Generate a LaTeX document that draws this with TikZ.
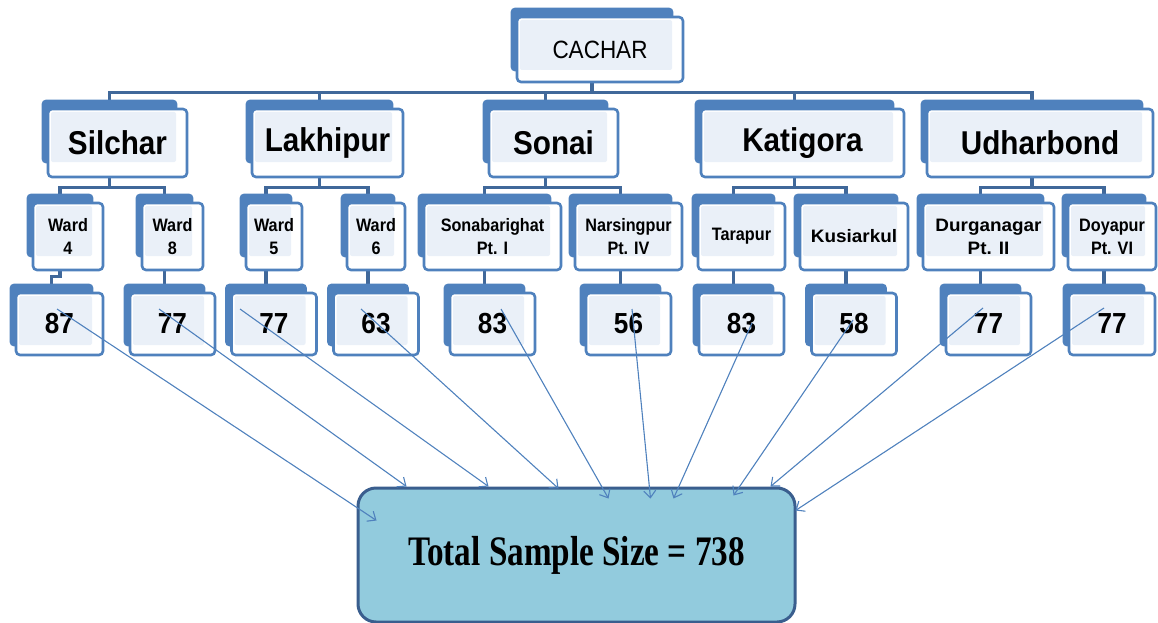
\documentclass[tikz,border=0pt]{standalone}
\usepackage{fontspec}
\setmainfont{Liberation Sans}
\newfontfamily\boxfont[FakeStretch=0.9]{Liberation Sans}
\newfontfamily\widefont[FakeStretch=1.05]{Liberation Sans}
\newfontfamily\totalfont[FakeStretch=0.79]{Liberation Serif}
\usetikzlibrary{positioning,backgrounds,arrows.meta}

\definecolor{boxblue}{RGB}{79,129,189}
\definecolor{lineblue}{RGB}{64,104,154}
\definecolor{paleblue}{RGB}{234,240,248}
\definecolor{sumfill}{RGB}{146,203,221}
\definecolor{sumdraw}{RGB}{58,94,142}

\begin{document}
\begin{tikzpicture}
[x=1pt, y=-1pt,
ebox/.style={draw=boxblue, line width=2.6pt, rounded corners=4pt, fill=white, inner sep=0pt, align=center,
	path picture={\fill[paleblue, rounded corners=2pt] ([shift={(3pt,-3pt)}]path picture bounding box.north west) rectangle ([shift={(-11pt,#1)}]path picture bounding box.south east);}},
rootbox/.style={ebox=12pt, minimum width=166pt, minimum height=65pt, font=\boxfont\fontsize{25}{28}\selectfont},
blockbox/.style={ebox=15pt, minimum width=#1, minimum height=68pt, font=\boxfont\bfseries\fontsize{33}{36}\selectfont},
unitbox/.style={ebox=14pt, minimum width=#1, minimum height=67pt, font=\boxfont\bfseries\fontsize{18}{23}\selectfont},
countbox/.style={ebox=10pt, minimum width=#1, minimum height=62pt, font=\boxfont\bfseries\fontsize{29}{32}\selectfont},
tree/.style={draw=lineblue, line width=3.5pt},
sumarrow/.style={draw=boxblue, line width=1.1pt, -{Straight Barb[length=7pt,width=12pt]}},
sumbox/.style={draw=sumdraw, line width=3pt, fill=sumfill, rounded corners=18pt, minimum width=437pt, minimum height=134pt, font=\totalfont\bfseries\fontsize{42}{46}\selectfont}
]

\useasboundingbox (0,0) rectangle (1158,623);

\node[rootbox] (cachar) at(600,49.5){CACHAR};

% blocks
\node[blockbox=139pt] (silchar) at(117.5,143){Silchar};
\node[blockbox=151pt] (lakhipur) at(327.5,143){Lakhipur};
\node[blockbox=129pt] (sonai) at(553.5,143){Sonai};
\node[blockbox=203pt] (katigora) at(802.5,143){Katigora};
\node[blockbox=226pt] (udharbond) at(1040,143){Udharbond};

% wards / GPs
\node[unitbox=70pt] (ward4) at(68,236.5){Ward\\4};
\node[unitbox=61pt] (ward8) at(172.5,236.5){Ward\\8};
\node[unitbox=56pt] (ward5) at(274,236.5){Ward\\5};
\node[unitbox=58pt] (ward6) at(376,236.5){Ward\\6};
\node[unitbox=137pt] (sonabarighat) at(492.5,236.5){Sonabarighat\\Pt. I};
\node[unitbox=107pt] (narsingpur) at(628.5,236.5){Narsingpur\\Pt. IV};
\node[unitbox=87pt] (tarapur) at(741.5,236.5){Tarapur};
\node[unitbox=108pt, font=\widefont\bfseries\fontsize{18}{23}\selectfont] (kusiarkul) at(854,236.5){Kusiarkul};
\node[unitbox=131pt, font=\widefont\bfseries\fontsize{18}{23}\selectfont] (durganagar) at(988.5,236.5){Durganagar\\Pt. II};
\node[unitbox=88pt] (doyapur) at(1112,236.5){Doyapur\\Pt. VI};

% sample counts
\node[countbox=87pt] (n4) at(59.5,324){87};
\node[countbox=85pt] (n8) at(172.5,324){77};
\node[countbox=85pt] (n5) at(274,324){77};
\node[countbox=85pt] (n6) at(376,324){63};
\node[countbox=85pt] (nsona) at(492.5,324){83};
\node[countbox=85pt] (nnars) at(628.5,324){56};
\node[countbox=85pt] (ntara) at(741.5,324){83};
\node[countbox=85pt] (nkusi) at(854,324){58};
\node[countbox=85pt] (ndurga) at(988.5,324){77};
\node[countbox=86pt] (ndoya) at(1112,324){77};

\node[sumbox] (total) at(576.5,555){Total Sample Size = 738};

\begin{scope}[on background layer]
\foreach \c in {silchar,lakhipur,sonai,katigora,udharbond}
	\draw[tree] ([xshift=-8pt]cachar.south) -- ++(0,-9pt) -| ([xshift=-8pt]\c.north);
\foreach \p/\c in {silchar/ward4,silchar/ward8,lakhipur/ward5,lakhipur/ward6,sonai/sonabarighat,sonai/narsingpur,katigora/tarapur,katigora/kusiarkul,udharbond/durganagar,udharbond/doyapur}
	\draw[tree] ([xshift=-8pt]\p.south) -- ++(0,-9pt) -| ([xshift=-8pt]\c.north);
\foreach \p/\c in {ward4/n4,ward8/n8,ward5/n5,ward6/n6,sonabarighat/nsona,narsingpur/nnars,tarapur/ntara,kusiarkul/nkusi,durganagar/ndurga,doyapur/ndoya}
	\draw[tree] ([xshift=-8pt]\p.south) -- ++(0,-5pt) -| ([xshift=-8pt]\c.north);
% blue backs
\foreach \n/\b in {cachar/12pt,silchar/15pt,lakhipur/15pt,sonai/15pt,katigora/15pt,udharbond/15pt,
	ward4/14pt,ward8/14pt,ward5/14pt,ward6/14pt,sonabarighat/14pt,narsingpur/14pt,tarapur/14pt,kusiarkul/14pt,durganagar/14pt,doyapur/14pt,
	n4/10pt,n8/10pt,n5/10pt,n6/10pt,nsona/10pt,nnars/10pt,ntara/10pt,nkusi/10pt,ndurga/10pt,ndoya/10pt}
	\fill[boxblue, rounded corners=4pt] ([shift={(-5pt,8pt)}]\n.north west) rectangle ([shift={(-11pt,\b)}]\n.south east);
\end{scope}

\draw[sumarrow] ([shift={(-2.5pt,15pt)}]n4.center) -- ([shift={(20pt,-34pt)}]total.north west);
\draw[sumarrow] ([shift={(-13.5pt,15pt)}]n8.center) -- ([shift={(50pt,0pt)}]total.north west);
\draw[sumarrow] ([shift={(-34pt,15pt)}]n5.center) -- ([shift={(132pt,0pt)}]total.north west);
\draw[sumarrow] ([shift={(-15pt,15pt)}]n6.center) -- ([shift={(202pt,-2pt)}]total.north west);
\draw[sumarrow] ([shift={(8.5pt,15pt)}]nsona.center) -- ([shift={(252pt,-12pt)}]total.north west);
\draw[sumarrow] ([shift={(3.5pt,15pt)}]nnars.center) -- ([shift={(294pt,-12pt)}]total.north west);
\draw[sumarrow] ([shift={(10.5pt,1pt)}]ntara.center) -- ([shift={(317pt,-12pt)}]total.north west);
\draw[sumarrow] ([shift={(-1pt,4pt)}]nkusi.center) -- ([shift={(377pt,-9pt)}]total.north west);
\draw[sumarrow] ([shift={(-5.5pt,16pt)}]ndurga.center) -- ([shift={(414pt,0pt)}]total.north west);
\draw[sumarrow] ([shift={(-8pt,16pt)}]ndoya.center) -- ([shift={(439pt,-24pt)}]total.north west);
\end{tikzpicture}
\end{document}
